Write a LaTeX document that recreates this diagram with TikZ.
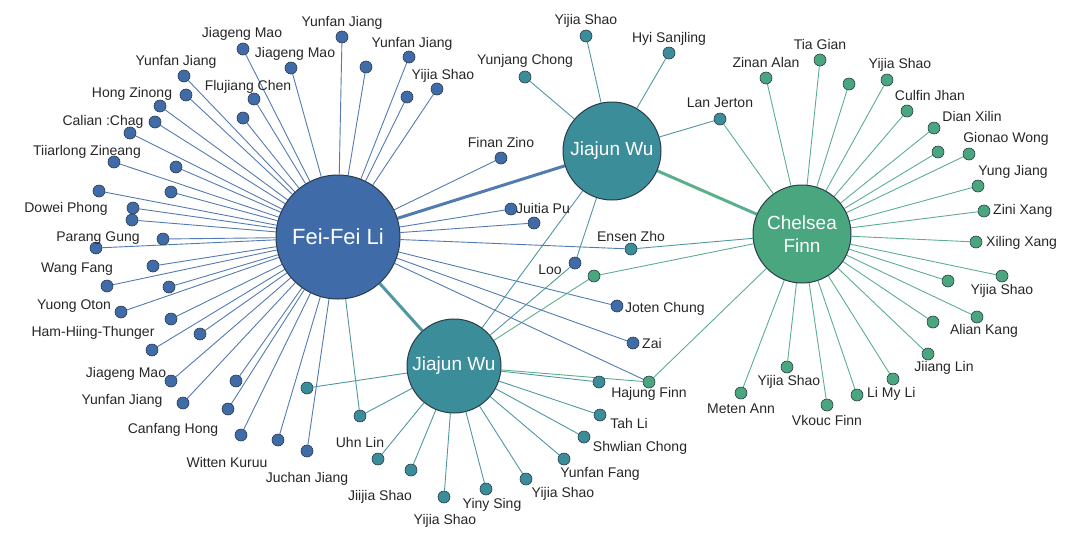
\documentclass[tikz,border=0pt]{standalone}
\usepackage{fontspec}
\setmainfont{Liberation Sans}
\usetikzlibrary{backgrounds}

\definecolor{ffblue}{HTML}{3F6CA8}
\definecolor{jwteal}{HTML}{3B8D99}
\definecolor{cfgreen}{HTML}{4AA67F}
\definecolor{rim}{HTML}{2B3A4A}

\tikzset{
  hub/.style={circle, draw=rim, line width=1pt, text=white, font=\fontsize{22}{24}\selectfont, align=center, inner sep=0pt},
  leaf/.style={circle, draw=rim, line width=0.6pt, minimum size=12pt, inner sep=0pt},
  bleaf/.style={leaf, fill=ffblue},
  tleaf/.style={leaf, fill=jwteal},
  gleaf/.style={leaf, fill=cfgreen},
  person/.style={font=\fontsize{14}{16}\selectfont, text=black!85, inner sep=1pt},
  bedge/.style={draw=ffblue!90, line width=0.9pt},
  tedge/.style={draw=jwteal!90, line width=0.9pt},
  gedge/.style={draw=cfgreen!90, line width=0.9pt},
}

\begin{document}
\begin{tikzpicture}[x=1pt, y=-1pt]
  \useasboundingbox (0,0) rectangle (1080,539);

  % hubs
  \node (feifei) [hub, fill=ffblue, minimum size=124pt] at (338,237) {Fei-Fei Li};
  \node (wutop) [hub, fill=jwteal, minimum size=98pt, font=\fontsize{19}{21}\selectfont] at (612,151) {Jiajun Wu};
  \node (wubot) [hub, fill=jwteal, minimum size=94pt, font=\fontsize{19}{21}\selectfont] at (454,366) {Jiajun Wu};
  \node (chelsea) [hub, fill=cfgreen, minimum size=98pt, font=\fontsize{19}{23}\selectfont] at (802,234) {Chelsea\\Finn};

  % Fei-Fei Li's people
  \foreach \n/\x/\y in {b1/243/49, b2/291/68, b3/342/37, b4/366/67, b5/409/57,
      b6/437/89, b7/407/97, b8/184/76, b9/186/95, b10/160/106, b11/254/99,
      b12/243/118, b13/155/122, b14/130/133, b15/114/162, b16/176/167,
      b17/99/191, b18/171/192, b19/133/208, b20/132/220, b21/163/239,
      b22/96/248, b23/153/266, b24/107/286, b25/169/287, b26/121/312,
      b27/171/319, b28/200/334, b29/152/350, b30/171/381, b31/236/381,
      b32/183/403, b33/228/409, b34/241/435, b35/278/440, b36/307/451,
      b37/501/158, b38/511/209, b39/534/223, b40/617/306, b41/633/343}
  {
    \node (\n) [bleaf] at (\x,\y) {};
    \begin{scope}[on background layer]
      \draw[bedge] (feifei) -- (\n);
    \end{scope}
  }
  \node (loo) [bleaf] at (575,263) {};

  % Jiajun Wu's people
  \foreach \n/\x/\y/\w in {t1/586/36/wutop, t2/669/53/wutop, t3/525/77/wutop,
      t4/720/119/wutop, t5/307/388/wubot, t6/378/459/wubot, t7/411/470/wubot,
      t8/444/497/wubot, t9/486/489/wubot, t10/526/479/wubot, t11/564/459/wubot,
      t12/584/437/wubot, t13/600/415/wubot, t14/599/382/wubot,
      ensen/631/249/chelsea, uhn/360/416/feifei}
  {
    \node (\n) [tleaf] at (\x,\y) {};
    \begin{scope}[on background layer]
      \draw[tedge] (\w) -- (\n);
    \end{scope}
  }

  % Chelsea Finn's people
  \foreach \n/\x/\y in {g1/820/60, g2/766/78, g3/849/84, g4/887/80, g5/907/111,
      g6/934/128, g7/938/152, g8/969/154, g9/978/186, g10/984/211,
      g11/976/242, g12/948/281, g13/1002/276, g14/933/322, g15/977/317,
      g16/928/354, g17/893/379, g18/857/395, g19/827/405, g20/787/367,
      g21/741/393, g22/594/276, g23/649/382}
  {
    \node (\n) [gleaf] at (\x,\y) {};
    \begin{scope}[on background layer]
      \draw[gedge] (chelsea) -- (\n);
    \end{scope}
  }

  \begin{scope}[on background layer]
    \draw[bedge, line width=3pt] (feifei) -- (wutop);
    \draw[tedge, line width=3pt] (feifei) -- (wubot);
    \draw[gedge, line width=3pt] (wutop) -- (chelsea);
    \draw[tedge] (wutop) -- (wubot);
    \draw[tedge] (wutop) -- (loo);
    \draw[tedge] (wubot) -- (loo);
    \draw[gedge] (wubot) -- (g22);
    \draw[gedge] (wubot) -- (g23);
    \draw[tedge] (wubot) -- (uhn);
    \draw[bedge] (feifei) -- (ensen);
    \draw[bedge] (feifei) -- (g23);
    \draw[gedge] (chelsea) -- (t4);
  \end{scope}

  % names
  \node (n1) [person] at (242,34) {Jiageng Mao};
  \node (n2) [person] at (295,54) {Jiageng Mao};
  \node (n3) [person] at (342,23) {Yunfan Jiang};
  \node (n4) [person] at (412,44) {Yunfan Jiang};
  \node (n5) [person] at (443,76) {Yijia Shao};
  \node (n6) [person] at (176,62) {Yunfan Jiang};
  \node (n7) [person] at (132,94) {Hong Zinong};
  \node (n8) [person] at (248,87) {Flujiang Chen};
  \node (n9) [person] at (103,122) {Calian :Chag};
  \node (n10) [person] at (87,152) {Tiiarlong Zineang};
  \node (n11) [person] at (66,209) {Dowei Phong};
  \node (n12) [person] at (98,238) {Parang Gung};
  \node (n13) [person] at (77,269) {Wang Fang};
  \node (n14) [person] at (74,306) {Yuong Oton};
  \node (n15) [person] at (93,333) {Ham-Hiing-Thunger};
  \node (n16) [person] at (126,374) {Jiageng Mao};
  \node (n17) [person] at (122,401) {Yunfan Jiang};
  \node (n18) [person] at (173,430) {Canfang Hong};
  \node (n19) [person] at (227,462) {Witten Kuruu};
  \node (n20) [person] at (307,479) {Juchan Jiang};
  \node (n21) [person] at (360,442) {Uhn Lin};
  \node (n22) [person] at (380,497) {Jiijia Shao};
  \node (n23) [person] at (445,521) {Yijia Shao};
  \node (n24) [person] at (492,505) {Yiny Sing};
  \node (n25) [person] at (563,494) {Yijia Shao};
  \node (n26) [person] at (600,474) {Yunfan Fang};
  \node (n27) [person] at (640,448) {Shwlian Chong};
  \node (n28) [person] at (629,423) {Tah Li};
  \node (n29) [person] at (649,394) {Hajung Finn};
  \node (n30) [person] at (586,21) {Yijia Shao};
  \node (n31) [person] at (669,39) {Hyi Sanjling};
  \node (n32) [person] at (525,61) {Yunjang Chong};
  \node (n33) [person] at (720,103) {Lan Jerton};
  \node (n34) [person] at (501,142) {Finan Zino};
  \node (n35) [person] at (543,208) {Juitia Pu};
  \node (n36) [person] at (631,236) {Ensen Zho};
  \node (n37) [person] at (550,270) {Loo};
  \node (n38) [person, anchor=west] at (624,309) {Joten Chung};
  \node (n39) [person, anchor=west] at (641,343) {Zai};
  \node (n40) [person] at (820,44) {Tia Gian};
  \node (n41) [person] at (766,62) {Zinan Alan};
  \node (n42) [person] at (900,65) {Yijia Shao};
  \node (n43) [person] at (930,95) {Culfin Jhan};
  \node (n44) [person] at (972,116) {Dian Xilin};
  \node (n45) [person] at (1006,139) {Gionao Wong};
  \node (n46) [person] at (1013,172) {Yung Jiang};
  \node (n47) [person, anchor=west] at (992,211) {Zini Xang};
  \node (n48) [person, anchor=west] at (985,243) {Xiling Xang};
  \node (n49) [person] at (1002,291) {Yijia Shao};
  \node (n50) [person] at (984,331) {Alian Kang};
  \node (n51) [person] at (944,368) {Jiiang Lin};
  \node (n52) [person, anchor=west] at (866,394) {Li My Li};
  \node (n53) [person] at (827,420) {Vkouc Finn};
  \node (n54) [person] at (789,382) {Yijia Shao};
  \node (n55) [person] at (741,409) {Meten Ann};
\end{tikzpicture}
\end{document}
